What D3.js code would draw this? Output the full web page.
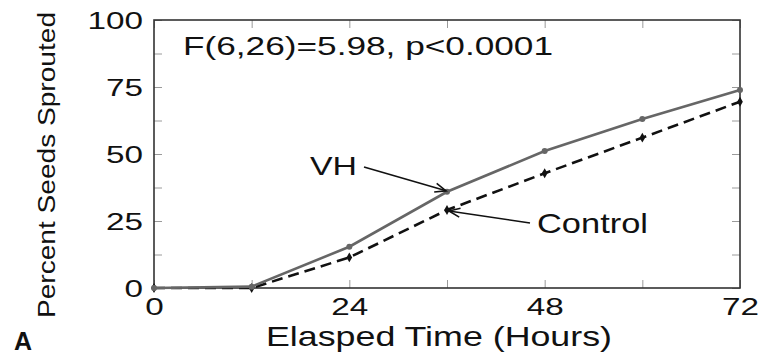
<!DOCTYPE html>
<html>
<head>
<meta charset="utf-8">
<script src="https://cdn.jsdelivr.net/npm/d3@7"></script>
<style>
  html, body { margin: 0; padding: 0; background: #fff; }
  svg { display: block; }
  text { font-family: "Liberation Sans", Arial, Helvetica, sans-serif; fill: #111; }
</style>
</head>
<body>
<svg id="chart" width="769" height="357"></svg>
<script>
// Germination time course: percent of seeds sprouted over 72 hours
const hours = [0, 12, 24, 36, 48, 60, 72];
const vhValues = [0, 0.5, 15.4, 35.9, 51.1, 63.1, 73.9];
const controlValues = [0, 0, 11.4, 29.1, 42.8, 56.1, 69.5];

const xMajorTicks = [0, 24, 48, 72];
const xMinorTicks = [12, 36, 60];
const yMajorTicks = [0, 25, 50, 75, 100];
const yMinorTicks = [12.5, 37.5, 62.5, 87.5];

const statText = "F(6,26)=5.98, p<0.0001";
const xTitle = "Elasped Time (Hours)";
const yTitle = "Percent Seeds Sprouted";
const panelLabel = "A";

const W = 769, H = 357;
const margin = { top: 20, right: 29, bottom: 69, left: 154 };
const innerW = W - margin.left - margin.right;
const innerH = H - margin.top - margin.bottom;

const svg = d3.select("#chart");
const g = svg.append("g").attr("transform", `translate(${margin.left},${margin.top})`);

const x = d3.scaleLinear().domain([0, 72]).range([0, innerW]);
const y = d3.scaleLinear().domain([0, 100]).range([innerH, 0]);

const allX = xMajorTicks.concat(xMinorTicks).sort((a, b) => a - b);
const allY = yMajorTicks.concat(yMinorTicks).sort((a, b) => a - b);
const tickLen = 8;

// Axes with inward ticks; minor ticks carry no label
function styleAxis(sel) {
  sel.select(".domain").remove();
  sel.selectAll(".tick line").attr("stroke", "#9a9a9a").attr("stroke-width", 1);
}
const digitW = 18.5;

const xAxis = g.append("g")
  .attr("transform", `translate(0,${innerH})`)
  .call(d3.axisBottom(x).tickValues(allX).tickSizeInner(-tickLen).tickSizeOuter(0).tickPadding(10)
    .tickFormat(d => xMajorTicks.includes(d) ? String(d) : ""));
styleAxis(xAxis);
xAxis.selectAll(".tick text")
  .attr("font-size", 23).attr("fill", "#111").attr("y", 27).attr("dy", 0)
  .each(function() {
    const t = this.textContent;
    if (t) d3.select(this).attr("textLength", t.length * digitW).attr("lengthAdjust", "spacingAndGlyphs");
  });

const yAxis = g.append("g")
  .call(d3.axisLeft(y).tickValues(allY).tickSizeInner(-tickLen).tickSizeOuter(0).tickPadding(11)
    .tickFormat(d => yMajorTicks.includes(d) ? String(d) : ""));
styleAxis(yAxis);
yAxis.selectAll(".tick text")
  .attr("font-size", 23).attr("fill", "#111").attr("dy", "0.36em")
  .each(function() {
    const t = this.textContent;
    if (t) d3.select(this).attr("textLength", t.length * digitW).attr("lengthAdjust", "spacingAndGlyphs");
  });

// Mirrored ticks on top and right
const xTop = g.append("g")
  .call(d3.axisTop(x).tickValues(allX).tickSizeInner(-tickLen).tickSizeOuter(0).tickFormat(""));
styleAxis(xTop);
const yRight = g.append("g")
  .attr("transform", `translate(${innerW},0)`)
  .call(d3.axisRight(y).tickValues(allY).tickSizeInner(-tickLen).tickSizeOuter(0).tickFormat(""));
styleAxis(yRight);

// Plot frame
g.append("rect")
  .attr("x", 0).attr("y", 0).attr("width", innerW).attr("height", innerH)
  .attr("fill", "none").attr("stroke", "#333").attr("stroke-width", 1.6);

// Series
const line = d3.line().x(d => x(d[0])).y(d => y(d[1]));
const controlPts = hours.map((h, i) => [h, controlValues[i]]);
const vhPts = hours.map((h, i) => [h, vhValues[i]]);

g.append("path").datum(controlPts)
  .attr("d", line).attr("fill", "none")
  .attr("stroke", "#111").attr("stroke-width", 2.6)
  .attr("stroke-dasharray", "11,6");
g.selectAll(".ctrl-pt").data(controlPts).enter().append("path")
  .attr("class", "ctrl-pt")
  .attr("transform", d => `translate(${x(d[0])},${y(d[1])})`)
  .attr("d", d3.symbol().type(d3.symbolDiamond).size(28))
  .attr("fill", "#111");

g.append("path").datum(vhPts)
  .attr("d", line).attr("fill", "none")
  .attr("stroke", "#666").attr("stroke-width", 2.6);
g.selectAll(".vh-pt").data(vhPts).enter().append("circle")
  .attr("class", "vh-pt")
  .attr("cx", d => x(d[0])).attr("cy", d => y(d[1])).attr("r", 3)
  .attr("fill", "#666");

// Statistics text
g.append("text")
  .attr("x", 29).attr("y", 35)
  .attr("font-size", 26)
  .attr("textLength", 370).attr("lengthAdjust", "spacingAndGlyphs")
  .text(statText);

// Open arrowheads for the series callouts
svg.append("defs").append("marker")
  .attr("id", "barb").attr("viewBox", "-12 -6 14 12")
  .attr("refX", 0).attr("refY", 0)
  .attr("markerWidth", 14).attr("markerHeight", 12)
  .attr("markerUnits", "userSpaceOnUse")
  .attr("orient", "auto")
  .append("path").attr("d", "M-11,-4.5 L0,0 L-11,4.5")
  .attr("fill", "none").attr("stroke", "#111").attr("stroke-width", 1.6);

const vhTip = [x(hours[3]) - 1, y(vhValues[3]) - 1];
g.append("text")
  .attr("x", 156).attr("y", 155)
  .attr("font-size", 25)
  .attr("textLength", 47).attr("lengthAdjust", "spacingAndGlyphs")
  .text("VH");
g.append("line")
  .attr("x1", 210).attr("y1", 147).attr("x2", vhTip[0]).attr("y2", vhTip[1])
  .attr("stroke", "#111").attr("stroke-width", 1.6)
  .attr("marker-end", "url(#barb)");

const ctrlTip = [x(hours[3]) + 2, y(controlValues[3]) + 1];
g.append("text")
  .attr("x", 383).attr("y", 213)
  .attr("font-size", 28)
  .attr("textLength", 111).attr("lengthAdjust", "spacingAndGlyphs")
  .text("Control");
g.append("line")
  .attr("x1", 376).attr("y1", 203).attr("x2", ctrlTip[0]).attr("y2", ctrlTip[1])
  .attr("stroke", "#111").attr("stroke-width", 1.6)
  .attr("marker-end", "url(#barb)");

// Axis titles
svg.append("text")
  .attr("x", 439).attr("y", 346)
  .attr("text-anchor", "middle")
  .attr("font-size", 28)
  .attr("textLength", 346).attr("lengthAdjust", "spacingAndGlyphs")
  .text(xTitle);

svg.append("text")
  .attr("transform", "translate(55,165) rotate(-90)")
  .attr("text-anchor", "middle")
  .attr("font-size", 23)
  .attr("textLength", 306).attr("lengthAdjust", "spacingAndGlyphs")
  .text(yTitle);

// Panel letter
svg.append("text")
  .attr("x", 14).attr("y", 350)
  .attr("font-size", 25).attr("font-weight", "bold")
  .text(panelLabel);
</script>
</body>
</html>
